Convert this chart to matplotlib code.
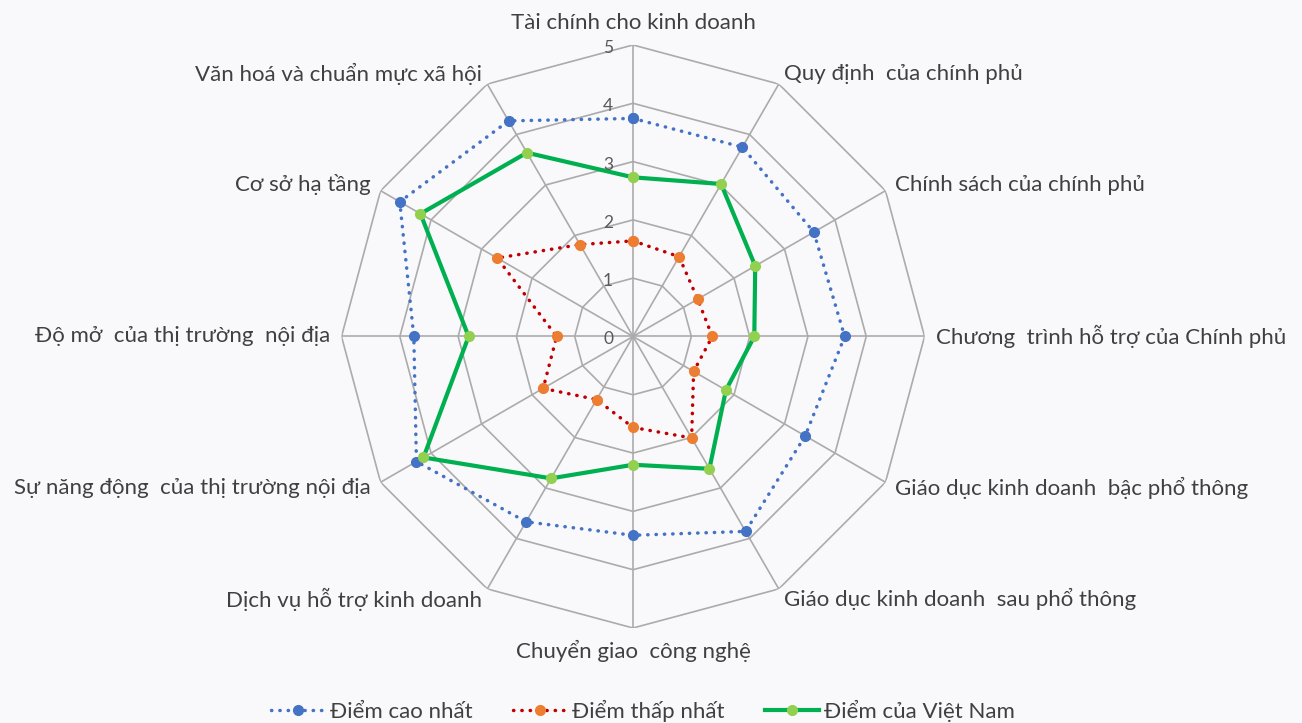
import numpy as np
import matplotlib
matplotlib.use("Agg")
import matplotlib.pyplot as plt

plt.rcParams['font.family'] = ['Lato', 'DejaVu Sans']

categories = [
    "Tài chính cho kinh doanh",
    "Quy định  của chính phủ",
    "Chính sách của chính phủ",
    "Chương  trình hỗ trợ của Chính phủ",
    "Giáo dục kinh doanh  bậc phổ thông",
    "Giáo dục kinh doanh  sau phổ thông",
    "Chuyển giao  công nghệ",
    "Dịch vụ hỗ trợ kinh doanh",
    "Sự năng động  của thị trường nội địa",
    "Độ mở  của thị trường  nội địa",
    "Cơ sở hạ tầng",
    "Văn hoá và chuẩn mực xã hội",
]
series_names = ["Điểm cao nhất", "Điểm thấp nhất", "Điểm của Việt Nam"]
max_scores = [3.74, 3.75, 3.58, 3.63, 3.41, 3.86, 3.41, 3.67, 4.29, 3.76, 4.62, 4.27]
min_scores = [1.64, 1.58, 1.28, 1.36, 1.20, 2.01, 1.56, 1.25, 1.78, 1.31, 2.69, 1.82]
vn_scores = [2.73, 3.02, 2.42, 2.08, 1.84, 2.62, 2.20, 2.81, 4.15, 2.82, 4.21, 3.64]
ticks = [0, 1, 2, 3, 4, 5]

bg = '#f9f9fb'
grid_c = '#ababab'
text_c = '#404040'

fig = plt.figure(figsize=(13.02, 7.23), dpi=100, facecolor=bg)
ax = fig.add_axes([0.2623, 0.1314, 0.4478, 0.8064], projection='polar')
ax.set_facecolor('none')
ax.set_theta_zero_location('N')
ax.set_theta_direction(-1)
ax.set_ylim(0, 5)
ax.set_axis_off()

n = len(categories)
angles = np.arange(n) * 2 * np.pi / n
ang_c = np.append(angles, angles[0])

# polygon grid
for r in ticks[1:]:
    ax.plot(ang_c, [r] * (n + 1), color=grid_c, lw=1.2, zorder=1, solid_joinstyle='miter')
for a in angles:
    ax.plot([a, a], [0, ticks[-1]], color=grid_c, lw=1.2, zorder=1)

def closed(v):
    return list(v) + [v[0]]

dot = (0, (0.1, 2.3))
l1, = ax.plot(ang_c, closed(max_scores), color='#4472c4', lw=2.5, linestyle=dot,
              dash_capstyle='round', marker='o', markersize=7,
              markerfacecolor='#4472c4', markeredgecolor='#4472c4', zorder=3,
              label=series_names[0])
l2, = ax.plot(ang_c, closed(min_scores), color='#c00000', lw=2.5, linestyle=dot,
              dash_capstyle='round', marker='o', markersize=7,
              markerfacecolor='#ed7d31', markeredgecolor='#ed7d31', zorder=4,
              label=series_names[1])
l3, = ax.plot(ang_c, closed(vn_scores), color='#00b050', lw=3.0, linestyle='-',
              marker='o', markersize=7, markerfacecolor='#92d050',
              markeredgecolor='#92d050', zorder=5, label=series_names[2])

# radial tick labels
for t in ticks:
    ax.annotate(str(t), xy=(0, t), xytext=(-20, -3), textcoords='offset pixels',
                ha='right', va='center', fontsize=12.5, color='#595959', zorder=6)

# category labels
for a, lab in zip(angles, categories):
    s, c = np.sin(a), np.cos(a)
    if abs(s) < 1e-6:
        ha = 'center'
        va = 'bottom' if c > 0 else 'top'
    else:
        ha = 'left' if s > 0 else 'right'
        va = 'center'
    ax.annotate(lab, xy=(a, 5), xytext=(11 * s, 12 * c), textcoords='offset pixels',
                ha=ha, va=va, fontsize=16, color=text_c, annotation_clip=False)

fig.legend(handles=[l1, l2, l3], loc='center', bbox_to_anchor=(643 / 1302, 1 - 711 / 723),
           ncol=3, frameon=False, fontsize=16, handlelength=2.45, handletextpad=0.22,
           columnspacing=1.8, labelcolor=text_c, borderpad=0.2)

fig.savefig('out.png', dpi=100, facecolor=bg)
